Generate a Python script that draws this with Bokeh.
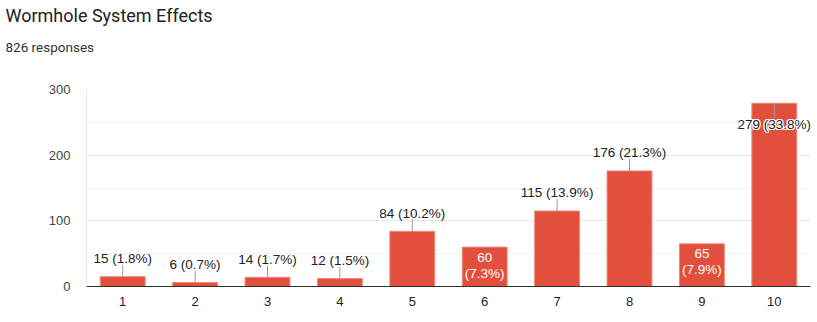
from bokeh.plotting import figure
from bokeh.models import ColumnDataSource, FixedTicker, Range1d, Title
from bokeh.core.properties import value
from bokeh.embed import file_html
from bokeh.resources import INLINE

# ---- data ----
categories = ["1", "2", "3", "4", "5", "6", "7", "8", "9", "10"]
counts = [15, 6, 14, 12, 84, 60, 115, 176, 65, 279]
total_responses = 826
title_text = "Wormhole System Effects"
subtitle_text = "826 responses"
y_ticks = [0, 100, 200, 300]
y_minor = [50, 150, 250]

# label placement style (not data)
placement = ["above", "above", "above", "above", "above", "inside",
             "above", "above", "inside", "top"]

BAR = "#e34f3d"
EDGE = "#ee8a7e"
LABEL_FONT = value("Liberation Sans")
LFS = "13.5px"

xs = list(range(1, len(categories) + 1))
pct = [f"{c / total_responses * 100:.1f}" for c in counts]

p = figure(width=817, height=322, output_backend="svg", toolbar_location=None,
           x_range=Range1d(0.5, len(categories) + 0.5), y_range=Range1d(0, 300),
           min_border_left=86, min_border_right=7, min_border_top=89,
           min_border_bottom=36)
p.title.visible = False
p.outline_line_color = None
p.background_fill_color = "white"
p.border_fill_color = "white"

# stacked header: spacer, subtitle, spacer, title (from the frame upward)
spacer1 = Title(text=" ", text_font_size="1px", standoff=32)
sub = Title(text=subtitle_text, align="left", offset=-81, text_font="Roboto",
            text_font_size="13.5px", text_color="#333333", text_font_style="normal",
            standoff=0)
spacer2 = Title(text=" ", text_font_size="1px", standoff=8)
ttl = Title(text=title_text, align="left", offset=-81, text_font="Roboto",
            text_font_size="18px", text_color="#202124", text_font_style="normal",
            standoff=0)
p.add_layout(spacer1, "above")
p.add_layout(sub, "above")
p.add_layout(spacer2, "above")
p.add_layout(ttl, "above")

px_per_unit = 197 / 300.0

src = ColumnDataSource(dict(x=xs, top=counts))
p.vbar(x="x", top="top", width=0.62, source=src, fill_color=BAR,
       line_color=EDGE, line_width=1)

# axes
p.xgrid.grid_line_color = None
p.ygrid.grid_line_color = "#e8e8e8"
p.ygrid.minor_grid_line_color = "#f3f3f3"
p.yaxis.ticker = FixedTicker(ticks=y_ticks, minor_ticks=y_minor)
p.yaxis.axis_line_color = "#e8e8e8"
p.yaxis.major_tick_line_color = None
p.yaxis.minor_tick_line_color = None
p.yaxis.major_label_standoff = 10
p.yaxis.major_label_text_font = "Liberation Sans"
p.yaxis.major_label_text_font_size = "13px"
p.yaxis.major_label_text_color = "#444444"

p.xaxis.ticker = FixedTicker(ticks=xs)
p.xaxis.major_label_overrides = {x: c for x, c in zip(xs, categories)}
p.xaxis.axis_line_color = "#333333"
p.xaxis.axis_line_width = 1
p.xaxis.major_tick_line_color = None
p.xaxis.minor_tick_line_color = None
p.xaxis.major_label_standoff = 4
p.xaxis.major_label_text_font = "Liberation Sans"
p.xaxis.major_label_text_font_size = "13px"
p.xaxis.major_label_text_color = "#222222"

# labels
above = dict(x=[], y=[], y1=[], t=[])
inside = dict(x=[], y=[], t1=[], t2=[])
topl = dict(x=[], y=[], y1=[], t=[])
for x, c, pc, pl in zip(xs, counts, pct, placement):
    if pl == "above":
        above["x"].append(x); above["y"].append(c)
        above["y1"].append(c + 12 / px_per_unit)
        above["t"].append(f"{c} ({pc}%)")
    elif pl == "inside":
        inside["x"].append(x); inside["y"].append(c)
        inside["t1"].append(f"{c}"); inside["t2"].append(f"({pc}%)")
    else:
        topl["x"].append(x); topl["y"].append(c)
        topl["y1"].append(c - 14 / px_per_unit)
        topl["t"].append(f"{c} ({pc}%)")

sa = ColumnDataSource(above)
p.segment(x0="x", y0="y", x1="x", y1="y1", source=sa, line_color="#9e9e9e", line_width=1)
p.text(x="x", y="y", text="t", source=sa, y_offset=-18, text_align="center",
       text_baseline="middle", text_font=LABEL_FONT, text_font_size=LFS,
       text_color="#222222")

si = ColumnDataSource(inside)
p.text(x="x", y="y", text="t1", source=si, y_offset=10, text_align="center",
       text_baseline="middle", text_font=LABEL_FONT, text_font_size=LFS,
       text_color="white")
p.text(x="x", y="y", text="t2", source=si, y_offset=26, text_align="center",
       text_baseline="middle", text_font=LABEL_FONT, text_font_size=LFS,
       text_color="white")

st = ColumnDataSource(topl)
p.segment(x0="x", y0="y", x1="x", y1="y1", source=st, line_color="#9e9e9e", line_width=1)
for dx, dy in [(-1, 0), (1, 0), (0, -1), (0, 1), (-1, -1), (1, 1), (-1, 1), (1, -1)]:
    p.text(x="x", y="y", text="t", source=st, x_offset=dx, y_offset=21 + dy,
           text_align="center", text_baseline="middle", text_font=LABEL_FONT,
           text_font_size=LFS, text_color="white")
p.text(x="x", y="y", text="t", source=st, y_offset=21, text_align="center",
       text_baseline="middle", text_font=LABEL_FONT, text_font_size=LFS,
       text_color="#222222")

open("out.html", "w").write(file_html(p, INLINE))
